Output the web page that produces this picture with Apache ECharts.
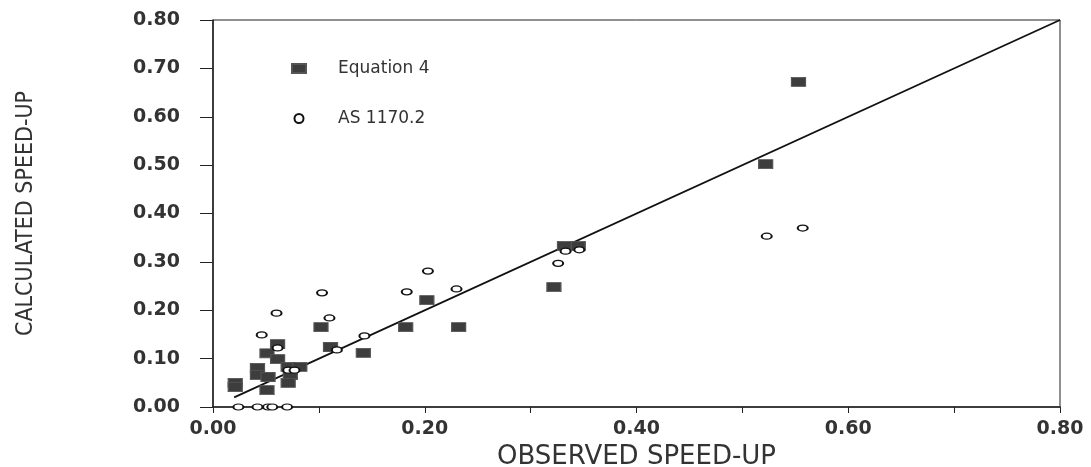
<!DOCTYPE html>
<html>
<head>
<meta charset="utf-8">
<script src="https://cdn.jsdelivr.net/npm/echarts@6/dist/echarts.min.js"></script>
<style>
  html, body { margin: 0; padding: 0; background: #fff; }
  #chart { width: 1091px; height: 467px; }
</style>
</head>
<body>
<div id="chart"></div>
<script>
// observed speed-up vs calculated speed-up
const equation4 = [
  [0.553, 0.672], [0.522, 0.502], [0.332, 0.333], [0.345, 0.333],
  [0.322, 0.248], [0.202, 0.221], [0.182, 0.165], [0.232, 0.165],
  [0.102, 0.165], [0.111, 0.124], [0.142, 0.112], [0.061, 0.130],
  [0.051, 0.111], [0.061, 0.099], [0.042, 0.081], [0.042, 0.066],
  [0.052, 0.062], [0.051, 0.035], [0.021, 0.050], [0.021, 0.041],
  [0.071, 0.083], [0.082, 0.083], [0.073, 0.066], [0.071, 0.050]
];

const as1170 = [
  [0.557, 0.370], [0.523, 0.353], [0.333, 0.322], [0.346, 0.325],
  [0.326, 0.297], [0.203, 0.281], [0.183, 0.238], [0.230, 0.244],
  [0.103, 0.236], [0.060, 0.194], [0.110, 0.184], [0.046, 0.149],
  [0.143, 0.147], [0.061, 0.122], [0.117, 0.118], [0.071, 0.076],
  [0.077, 0.076], [0.024, 0.000], [0.042, 0.000], [0.052, 0.000],
  [0.056, 0.000], [0.070, 0.000]
];

// 1:1 line
const lineX = [0.02, 0.80];
const lineY = [0.02, 0.80];

const chart = echarts.init(document.getElementById('chart'));

const tickFont = { fontFamily: 'DejaVu Sans', fontSize: 19, fontWeight: 'bold', color: '#333' };

const option = {
  backgroundColor: '#fff',
  animation: false,
  grid: {
    left: 213, right: 31, top: 20, bottom: 60,
    outerBoundsMode: 'none',
    containLabel: false,
    show: true, borderColor: '#222', borderWidth: 1
  },
  legend: {
    orient: 'vertical',
    left: 286, top: 55,
    itemWidth: 14, itemHeight: 9,
    itemGap: 33,
    textStyle: { fontFamily: 'DejaVu Sans', fontSize: 17, color: '#333', padding: [0, 0, 0, 27] },
    data: [
      { name: 'Equation 4', icon: 'rect' },
      { name: 'AS 1170.2', icon: 'circle' }
    ]
  },
  xAxis: {
    type: 'value', min: 0, max: 0.8, interval: 0.1,
    name: 'OBSERVED SPEED-UP',
    nameLocation: 'middle', nameGap: 36,
    nameTextStyle: { fontFamily: 'DejaVu Sans', fontSize: 26, color: '#333' },
    axisLine: { show: true, lineStyle: { color: '#222', width: 1.5 } },
    axisTick: { show: true, inside: false, length: 6, lineStyle: { color: '#222' } },
    splitLine: { show: false },
    axisLabel: Object.assign({
      margin: 13,
      formatter: v => (Math.round(v * 10) % 2 === 0 ? v.toFixed(2) : '')
    }, tickFont)
  },
  yAxis: {
    type: 'value', min: 0, max: 0.8, interval: 0.1,
    name: 'CALCULATED SPEED-UP',
    nameLocation: 'middle', nameRotate: 90, nameGap: 175,
    nameTextStyle: {
      fontFamily: "'Liberation Sans Narrow', 'DejaVu Sans Condensed', 'Liberation Sans'",
      fontSize: 23, color: '#333'
    },
    axisLine: { show: true, lineStyle: { color: '#222', width: 1.5 } },
    axisTick: { show: true, inside: false, length: 13, lineStyle: { color: '#222' } },
    splitLine: { show: false },
    axisLabel: Object.assign({
      margin: 33,
      formatter: v => v.toFixed(2)
    }, tickFont)
  },
  series: [
    {
      name: 'Equation 4',
      type: 'scatter',
      symbol: 'rect',
      symbolSize: [14, 9],
      itemStyle: { color: '#3d3d3d', borderColor: '#555', borderWidth: 1, opacity: 1 },
      data: equation4,
      z: 3
    },
    {
      name: 'AS 1170.2',
      type: 'scatter',
      symbol: 'circle',
      symbolSize: [10, 6],
      itemStyle: { color: '#fff', borderColor: '#111', borderWidth: 1.6, opacity: 1 },
      data: as1170,
      z: 4
    },
    {
      name: 'line',
      type: 'line',
      showSymbol: false,
      silent: true,
      lineStyle: { color: '#111', width: 1.8 },
      data: lineX.map((x, i) => [x, lineY[i]]),
      z: 2
    }
  ]
};

chart.setOption(option);
window.addEventListener('resize', () => chart.resize());
</script>
</body>
</html>
